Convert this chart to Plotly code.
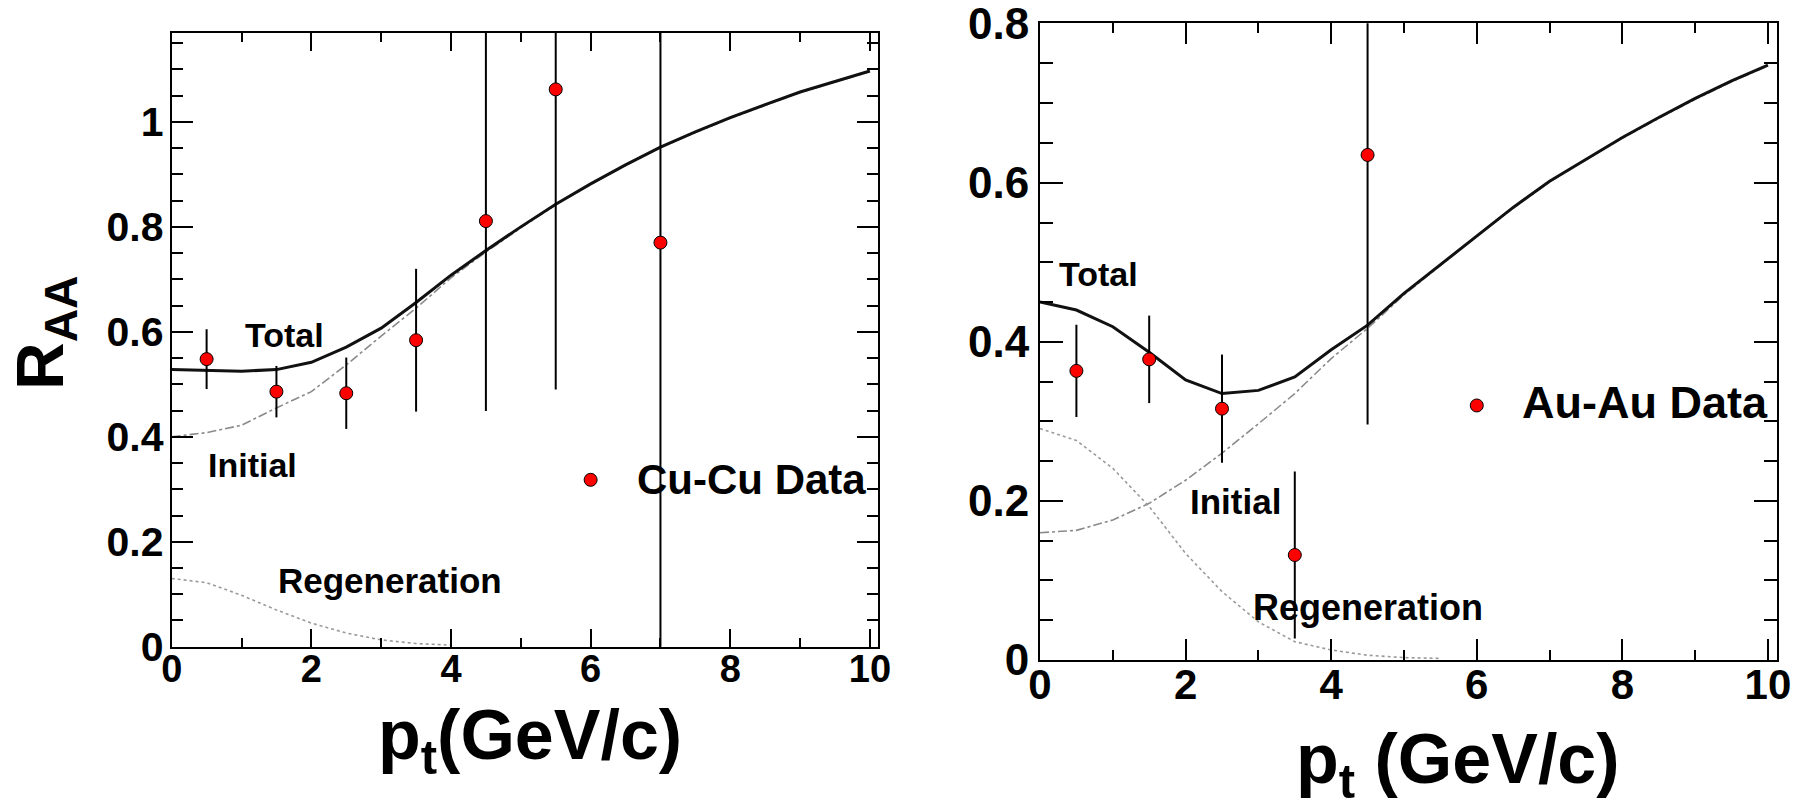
import plotly.graph_objects as go

W, H = 1798, 809

# ---------------- data ----------------
# Cu-Cu data points
cu_pt = [0.5, 1.5, 2.5, 3.5, 4.5, 5.5, 7.0]
cu_raa = [0.548, 0.486, 0.483, 0.584, 0.811, 1.062, 0.770]
cu_err = [0.057, 0.049, 0.068, 0.136, 0.362, 0.572, 0.80]

# Au-Au data points
au_pt = [0.5, 1.5, 2.5, 3.5, 4.5]
au_raa = [0.3635, 0.378, 0.316, 0.132, 0.635]
au_err = [0.058, 0.055, 0.068, 0.105, 0.339]

# model curves
model_pt = [0.0, 0.5, 1.0, 1.5, 2.0, 2.5, 3.0, 3.5, 4.0, 4.5, 5.0,
            5.5, 6.0, 6.5, 7.0, 7.5, 8.0, 8.5, 9.0, 9.5, 10.0]

cu_total = [0.528, 0.527, 0.525, 0.528, 0.542, 0.571, 0.607, 0.656, 0.708, 0.755, 0.800,
            0.843, 0.882, 0.918, 0.952, 0.981, 1.008, 1.033, 1.057, 1.077, 1.097]
cu_initial = [0.400, 0.408, 0.422, 0.455, 0.486, 0.537, 0.592, 0.645, 0.703, 0.752, 0.798,
              0.842, 0.881, 0.917, 0.951, 0.980, 1.007, 1.032, 1.056, 1.076, 1.096]
cu_regen_pt = [0.0, 0.5, 1.0, 1.5, 2.0, 2.5, 3.0, 3.5, 4.0]
cu_regen = [0.130, 0.122, 0.098, 0.070, 0.045, 0.026, 0.013, 0.006, 0.003]

au_total = [0.450, 0.440, 0.419, 0.387, 0.352, 0.335, 0.339, 0.356, 0.390, 0.421, 0.461,
            0.497, 0.534, 0.569, 0.602, 0.630, 0.657, 0.682, 0.706, 0.728, 0.748]
au_initial = [0.160, 0.163, 0.176, 0.197, 0.226, 0.260, 0.297, 0.335, 0.379, 0.417, 0.459,
              0.496, 0.533, 0.568, 0.601, 0.629, 0.656, 0.681, 0.705, 0.727, 0.747]
au_regen_pt = [0.0, 0.5, 1.0, 1.5, 2.0, 2.5, 3.0, 3.5, 4.0, 4.5, 5.0, 5.5]
au_regen = [0.291, 0.276, 0.241, 0.193, 0.134, 0.086, 0.048, 0.023, 0.0126, 0.006, 0.003, 0.002]

# legend entries
cu_legend = ["Cu-Cu Data"]
au_legend = ["Au-Au Data"]
curve_labels = ["Total", "Initial", "Regeneration"]

# ---------------- styling / layout ----------------
FONT = "Liberation Sans, Arial, Helvetica, sans-serif"
RED = "#ff0000"
TOT = dict(color="#111111", width=3)
INI = dict(color="#8a8a8a", width=1.6, dash="dashdot")
REG = dict(color="#9a9a9a", width=1.6, dash="dot")

fig = go.Figure()

def add_panel(xa, ya, pt, raa, err, total, initial, regen_pt, regen, leg_xy):
    fig.add_trace(go.Scatter(x=model_pt, y=initial, mode="lines", line=INI,
                             xaxis=xa, yaxis=ya, showlegend=False, hoverinfo="skip"))
    fig.add_trace(go.Scatter(x=regen_pt, y=regen, mode="lines", line=REG,
                             xaxis=xa, yaxis=ya, showlegend=False, hoverinfo="skip"))
    fig.add_trace(go.Scatter(x=model_pt, y=total, mode="lines", line=TOT,
                             xaxis=xa, yaxis=ya, showlegend=False, hoverinfo="skip"))
    fig.add_trace(go.Scatter(x=pt, y=raa, mode="markers",
                             error_y=dict(type="data", array=err, symmetric=True,
                                          thickness=2, width=0, color="black"),
                             marker=dict(size=13, color=RED, line=dict(color="black", width=1)),
                             xaxis=xa, yaxis=ya, showlegend=False))
    fig.add_trace(go.Scatter(x=[leg_xy[0]], y=[leg_xy[1]], mode="markers",
                             marker=dict(size=13, color=RED, line=dict(color="black", width=1)),
                             xaxis=xa, yaxis=ya, showlegend=False, hoverinfo="skip"))

add_panel("x", "y", cu_pt, cu_raa, cu_err, cu_total, cu_initial, cu_regen_pt, cu_regen, (6.0, 0.318))
add_panel("x2", "y2", au_pt, au_raa, au_err, au_total, au_initial, au_regen_pt, au_regen, (6.0, 0.320))

def axis(domain, rng, dtick, mdtick, tl, mtl, fsize, anchor, standoff):
    return dict(domain=domain, range=rng, tick0=0, dtick=dtick, ticks="inside",
                ticklen=tl, tickwidth=2, tickcolor="black", automargin=False,
                ticklabeloverflow="allow", ticklabelstandoff=standoff,
                minor=dict(dtick=mdtick, tick0=0, ticks="inside", ticklen=mtl,
                           tickwidth=2, tickcolor="black", showgrid=False),
                showline=True, linewidth=2, linecolor="black", mirror="ticks",
                showgrid=False, zeroline=False, anchor=anchor,
                tickfont=dict(family=FONT, size=fsize, color="black", weight="bold"))

def px2x(px):
    return px / W

def px2y(py):
    return 1 - py / H

fig.update_layout(
    template="none",
    width=W, height=H, margin=dict(l=0, r=0, t=0, b=0, pad=0, autoexpand=False),
    paper_bgcolor="white", plot_bgcolor="white", showlegend=False,
    xaxis=axis([px2x(171.7), px2x(878.3)], [0, 10.12], 2, 1, 18, 9, 38, "y", -12),
    yaxis=axis([px2y(646.7), px2y(32.7)], [0, 1.17], 0.2, 0.05, 21, 11, 41, "x", -2),
    xaxis2=axis([px2x(1040), px2x(1776.7)], [0, 10.12], 2, 1, 21, 10, 42, "y2", -13),
    yaxis2=axis([px2y(660), px2y(23.3)], [0, 0.8005], 0.2, 0.05, 23, 13, 44, "x2", 0),
)

def label(text, x, y, xref, yref, size, xanchor="center", angle=0):
    fig.add_annotation(text=text, x=x, y=y, xref=xref, yref=yref, showarrow=False,
                       xanchor=xanchor, yanchor="middle", textangle=angle,
                       font=dict(family=FONT, size=size, color="black", weight="bold"))

# curve labels (data coordinates)
label(curve_labels[0], 1.62, 0.594, "x", "y", 34)
label(curve_labels[1], 1.15, 0.347, "x", "y", 34)
label(curve_labels[2], 3.13, 0.127, "x", "y", 35)
label(cu_legend[0], 6.63, 0.319, "x", "y", 42, xanchor="left")

label(curve_labels[0], 0.81, 0.485, "x2", "y2", 34)
label(curve_labels[1], 2.68, 0.199, "x2", "y2", 35)
label(curve_labels[2], 4.51, 0.066, "x2", "y2", 36)
label(au_legend[0], 6.6, 0.3235, "x2", "y2", 45, xanchor="left")

# axis titles
label("p<sub>t</sub>(GeV/c)", px2x(530), px2y(740), "paper", "paper", 70)
label("p<sub>t</sub> (GeV/c)", px2x(1458), px2y(764), "paper", "paper", 70)
label("R<sub>AA</sub>", px2x(45), px2y(333), "paper", "paper", 66, angle=-90)

fig.write_html("out.html")
